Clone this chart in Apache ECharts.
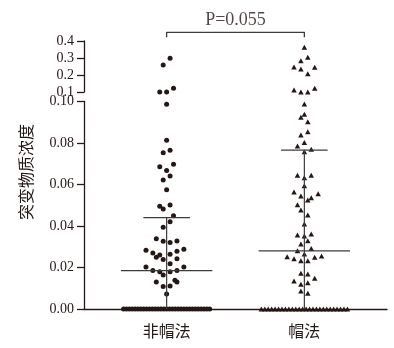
<!DOCTYPE html>
<html>
<head>
<meta charset="utf-8">
<script src="https://cdn.jsdelivr.net/npm/echarts@6/dist/echarts.min.js"></script>
<style>
  html, body { margin: 0; padding: 0; background: #fff; }
  #chart { width: 394px; height: 348px; }
</style>
</head>
<body>
<div id="chart"></div>
<script>
// Group names on the x axis
const groupNames = ['非帽法', '帽法'];

// 非帽法: non-zero measurements and their beeswarm column offsets
const nonCapValues = [
  0.298, 0.259, 0.122, 0.100, 0.100,
  0.0987, 0.0813, 0.0753, 0.0765, 0.0686, 0.0697, 0.0668, 0.0622, 0.0641, 0.0575,
  0.0495, 0.0482, 0.0501, 0.0450, 0.0421, 0.0394, 0.0339, 0.0326, 0.0321, 0.0328,
  0.0283, 0.0270, 0.0249, 0.0260, 0.0238, 0.0264, 0.0278, 0.0288, 0.0218, 0.0242,
  0.0202, 0.0186, 0.0180, 0.0164, 0.0180, 0.0186, 0.0202, 0.0130, 0.0109, 0.0111,
  0.0138, 0.0130, 0.0072
];
const nonCapColumns = [
  0.5, -0.5, 1, -1, 0,
  0, 0, -0.5, 0.5, -1, 1, 0, -0.5, 0.5, 0,
  -1, -0.5, 0.5, 1, 0.5, -0.5, -1.5, -0.5, 0.5, 1.5,
  -3, -2, -1.5, -1, -0.5, 0.5, 1.5, 2.5, 0.5, 1.5,
  -3, -2, -1, -0.5, 0.5, 1.5, 2.5, -1.5, -0.5, 0.5,
  1.2, 1.5, 0
];
const nonCapZeroCount = 31;

// 帽法: non-zero measurements and their beeswarm column offsets
const capValues = [
  0.363, 0.304, 0.284, 0.247, 0.235, 0.245, 0.208, 0.112, 0.100, 0.100, 0.122,
  0.0988, 0.0938, 0.0924, 0.0903, 0.0839, 0.0854, 0.0803, 0.0786, 0.0758, 0.0770,
  0.0644, 0.0644, 0.0633, 0.0594, 0.0564, 0.0545, 0.0536, 0.0525, 0.0556, 0.0503,
  0.0477, 0.0453, 0.0410, 0.0357, 0.0352, 0.0361, 0.0329, 0.0313, 0.0281, 0.0291,
  0.0265, 0.0252, 0.0242, 0.0233, 0.0233, 0.0249, 0.0255, 0.0172, 0.0169, 0.0135,
  0.0119, 0.0127, 0.0148, 0.0087, 0.0076
];
const capColumns = [
  0, 0.5, -0.5, -1.5, -0.5, 1.5, 0.5, -1.5, -0.5, 0.5, 1.5,
  0, 0, -0.5, 0.5, -0.5, 0.5, 0, -1, 0, 1,
  -1, 1, 0, 0, -1.5, -0.5, 1, 0.5, 2, -1,
  -0.5, 0.5, 0, -1, 0, 1, 0.5, -0.5, -1, 1,
  0, -2.5, -1.5, -0.5, 0.5, 1.5, 2.5, -0.5, 0.5, -1.5,
  -0.5, 0.5, 1.5, -0.5, 0.5
];
const capZeroCount = 26;

// Median and interquartile range per group
const medians = [0.0185, 0.028];
const upperQuartiles = [0.044, 0.0766];
const lowerQuartiles = [0, 0];

// Significance annotation
const pValueText = 'P=0.055';

// Axis ranges for the broken y axis
const lowerTicks = { min: 0, max: 0.1, interval: 0.02 };
const upperTicks = { min: 0.1, max: 0.4, interval: 0.1 };

const INK = '#231815';
const LINE = '#3c3c3c';
const COL = 0.05;          // width of one swarm column in x-axis units
const ZERO_SPREAD = 6.25;  // half-width of the zero row, in columns
const MEDIAN_HALF = 0.332;
const QUARTILE_HALF = 0.169;

function splitPoints(center, values, cols, zeroCount) {
  const top = [], bottom = [];
  values.forEach((v, i) => {
    const pt = [center + cols[i] * COL, v];
    (v >= upperTicks.min ? top : bottom).push(pt);
  });
  for (let i = 0; i < zeroCount; i++) {
    const c = -ZERO_SPREAD + i * (2 * ZERO_SPREAD) / (zeroCount - 1);
    bottom.push([center + c * COL, 0]);
  }
  return { top, bottom };
}

const nonCap = splitPoints(1, nonCapValues, nonCapColumns, nonCapZeroCount);
const cap = splitPoints(2, capValues, capColumns, capZeroCount);

function scatter(data, grid, symbol, size) {
  return {
    type: 'scatter', xAxisIndex: grid, yAxisIndex: grid, data,
    symbol, symbolSize: size, clip: false, z: 3,
    itemStyle: { color: INK, opacity: 1 }, silent: true
  };
}

function segment(data) {
  return {
    type: 'line', xAxisIndex: 1, yAxisIndex: 1, data,
    showSymbol: false, symbol: 'none', clip: false, z: 4,
    lineStyle: { color: LINE, width: 1.2 }, silent: true
  };
}

const summarySeries = [];
medians.forEach((m, i) => {
  const c = i + 1;
  summarySeries.push(segment([[c - MEDIAN_HALF, m], [c + MEDIAN_HALF, m]]));
  summarySeries.push(segment([[c - QUARTILE_HALF, upperQuartiles[i]], [c + QUARTILE_HALF, upperQuartiles[i]]]));
  summarySeries.push(segment([[c, lowerQuartiles[i]], [c, upperQuartiles[i]]]));
});

// Bracket joining the two groups above the upper panel
const bracketLevel = 0.451;
const bracketFoot = 0.422;
const labelLevel = 0.524;

const yAxisCommon = {
  type: 'value',
  axisLine: { show: true, lineStyle: { color: INK, width: 1.3 } },
  axisTick: { show: true, inside: false, length: 7, lineStyle: { color: INK, width: 1.3 } },
  splitLine: { show: false },
  axisLabel: { color: INK, fontFamily: 'Liberation Serif', fontSize: 14, margin: 10 }
};

const chart = echarts.init(document.getElementById('chart'), null, { renderer: 'canvas' });
chart.setOption({
  animation: false,
  backgroundColor: '#fff',
  grid: [
    { left: 84, width: 303, top: 41, height: 51 },
    { left: 84, width: 303, top: 101.5, height: 207.5 }
  ],
  xAxis: [
    { gridIndex: 0, type: 'value', min: 0.4, max: 2.6, show: false },
    {
      gridIndex: 1, type: 'value', min: 0.4, max: 2.6,
      axisLine: { show: true, onZero: false, lineStyle: { color: INK, width: 1.3 } },
      axisTick: { show: false },
      splitLine: { show: false },
      axisLabel: {
        customValues: [1, 2],
        formatter: v => groupNames[Math.round(v) - 1] || '',
        color: INK, fontFamily: 'Noto Sans CJK SC', fontSize: 16, margin: 14
      }
    }
  ],
  yAxis: [
    Object.assign({}, yAxisCommon, {
      gridIndex: 0, min: upperTicks.min, max: upperTicks.max, interval: upperTicks.interval,
      axisLabel: Object.assign({}, yAxisCommon.axisLabel, { formatter: v => v.toFixed(1) })
    }),
    Object.assign({}, yAxisCommon, {
      gridIndex: 1, min: lowerTicks.min, max: lowerTicks.max, interval: lowerTicks.interval,
      axisLabel: Object.assign({}, yAxisCommon.axisLabel, { formatter: v => v.toFixed(2) })
    })
  ],
  graphic: [{
    type: 'text', x: 26, y: 172, rotation: Math.PI / 2,
    style: {
      text: '突变物质浓度', fill: INK,
      font: '16px "Noto Sans CJK SC"', align: 'center', verticalAlign: 'middle'
    }
  }],
  series: [
    scatter(nonCap.top, 0, 'circle', 5),
    scatter(nonCap.bottom, 1, 'circle', 5),
    scatter(cap.top, 0, 'triangle', [5.5, 5]),
    scatter(cap.bottom, 1, 'triangle', [5.5, 5]),
    ...summarySeries,
    {
      type: 'line', xAxisIndex: 0, yAxisIndex: 0,
      data: [[1, bracketFoot], [1, bracketLevel], [2, bracketLevel], [2, bracketFoot]],
      showSymbol: false, symbol: 'none', clip: false,
      lineStyle: { color: LINE, width: 1.3 }, silent: true
    },
    {
      type: 'scatter', xAxisIndex: 0, yAxisIndex: 0,
      data: [[1.5, labelLevel]], symbolSize: 0, clip: false, silent: true,
      label: {
        show: true, position: 'inside', formatter: pValueText,
        color: INK, fontFamily: 'Liberation Serif', fontSize: 18,
        align: 'center', verticalAlign: 'middle'
      }
    }
  ]
});
</script>
</body>
</html>
